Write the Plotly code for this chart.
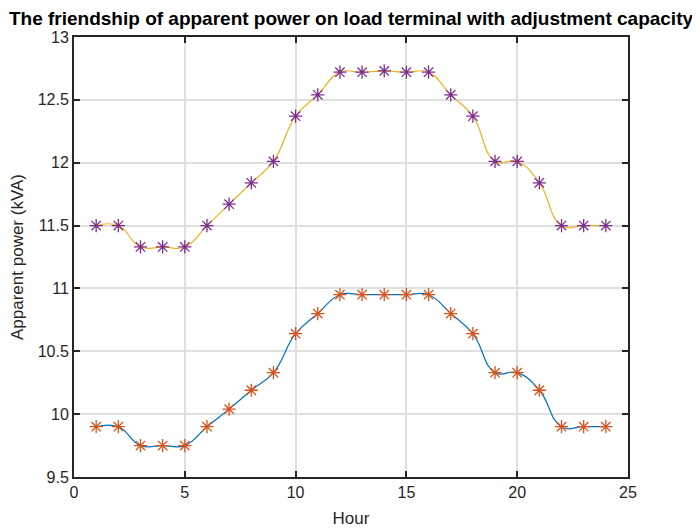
import plotly.graph_objects as go

hours = list(range(1, 25))
power_without = [9.90, 9.90, 9.75, 9.75, 9.75, 9.90, 10.04, 10.19, 10.33, 10.64, 10.80, 10.95,
                 10.95, 10.95, 10.95, 10.95, 10.80, 10.64, 10.33, 10.33, 10.19, 9.90, 9.90, 9.90]
power_with = [11.50, 11.50, 11.33, 11.33, 11.33, 11.50, 11.67, 11.84, 12.01, 12.37, 12.54, 12.72,
              12.72, 12.73, 12.72, 12.72, 12.54, 12.37, 12.01, 12.01, 11.84, 11.50, 11.50, 11.50]

title_text = "The friendship of apparent power on load terminal with adjustment capacity"

fig = go.Figure()
fig.add_trace(go.Scatter(
    x=hours, y=power_without, mode="lines+markers",
    line=dict(color="#0072BD", width=1.2, shape="spline", smoothing=1.3),
    marker=dict(symbol="asterisk-open", size=11, color="#D95319",
                line=dict(color="#D95319", width=1.3)),
    showlegend=False))
fig.add_trace(go.Scatter(
    x=hours, y=power_with, mode="lines+markers",
    line=dict(color="#EDB120", width=1.2, shape="spline", smoothing=1.3),
    marker=dict(symbol="asterisk-open", size=11, color="#7E2F8E",
                line=dict(color="#7E2F8E", width=1.3)),
    showlegend=False))

axis_common = dict(
    showline=True, linecolor="#262626", linewidth=2, mirror="ticks",
    ticks="inside", ticklen=6, tickwidth=2, tickcolor="#262626",
    showgrid=True, gridcolor="#DFDFDF", gridwidth=1.5, zeroline=False,
    automargin=False,
    tickfont=dict(family="Liberation Sans, Arial", size=16, color="#262626"),
)

W, H = 692, 520
fig.update_layout(
    width=W, height=H,
    margin=dict(l=66, r=72, t=29, b=51, autoexpand=False),
    paper_bgcolor="white", plot_bgcolor="white",
    title=dict(text="<b>" + title_text + "</b>", x=0.5, xref="paper", xanchor="center",
               y=1 - 10 / H, yref="container", yanchor="middle", automargin=False,
               font=dict(family="Liberation Sans, Arial", size=19, color="black")),
    xaxis=dict(range=[0, 25], tickvals=[0, 5, 10, 15, 20, 25],
               title=dict(text="Hour", font=dict(family="Liberation Sans, Arial", size=17, color="#262626"),
                          standoff=14),
               **axis_common),
    yaxis=dict(range=[9.5, 13], tickvals=[9.5, 10, 10.5, 11, 11.5, 12, 12.5, 13],
               ticktext=["9.5", "10", "10.5", "11", "11.5", "12", "12.5", "13"],
               title=dict(text="Apparent power (kVA)", font=dict(family="Liberation Sans, Arial", size=17, color="#262626"),
                          standoff=11),
               **axis_common),
)

fig.write_html("out.html")
